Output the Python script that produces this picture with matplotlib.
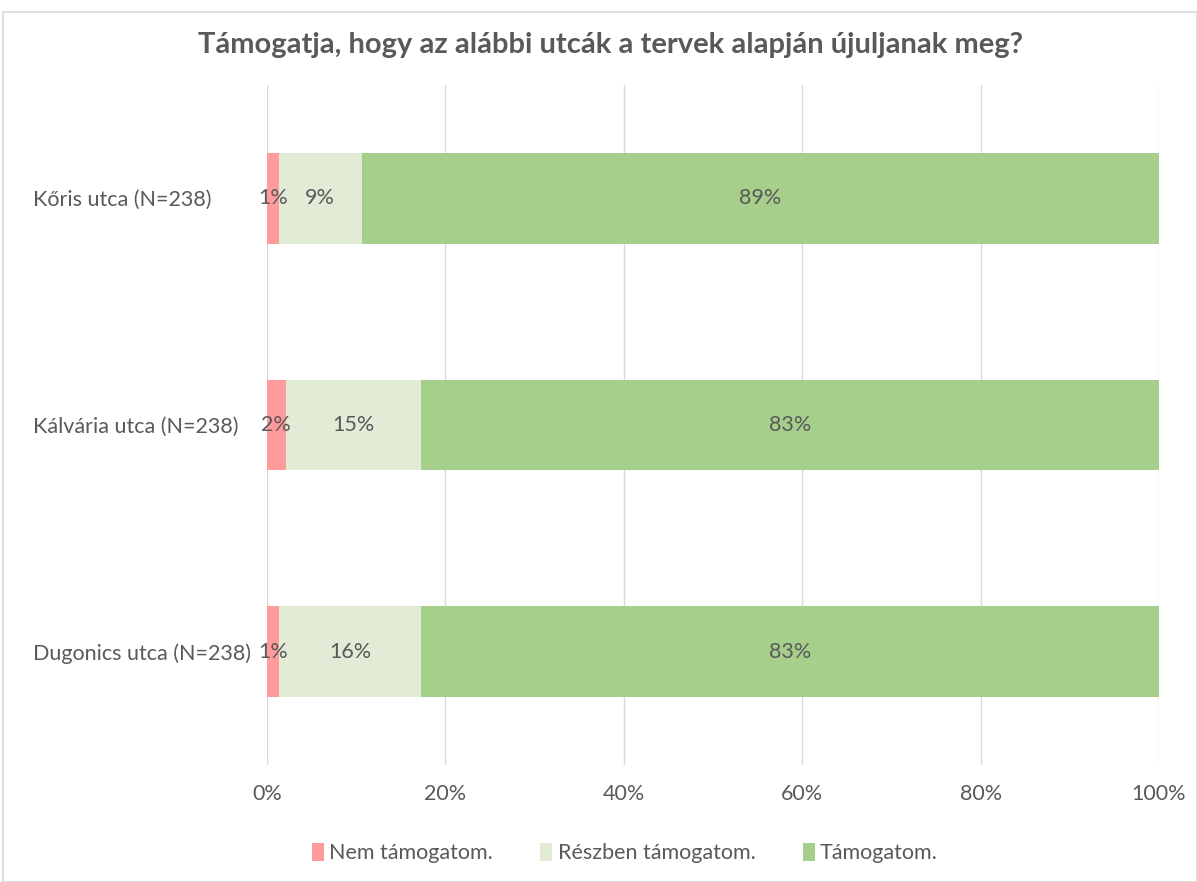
import numpy as np
import matplotlib.pyplot as plt
from matplotlib.patches import Rectangle

categories = ["Kőris utca (N=238)", "Kálvária utca (N=238)", "Dugonics utca (N=238)"]
series = ["Nem támogatom.", "Részben támogatom.", "Támogatom."]
nem = [1.3, 2.1, 1.3]
reszben = [9.3, 15.2, 16.0]
tamogat = [89.4, 82.7, 82.7]
colors = ["#FF9B9B", "#E2EBD6", "#A6CF8C"]
xticks = [0, 20, 40, 60, 80, 100]

plt.rcParams['font.family'] = ['Lato', 'DejaVu Sans']
txt = "#595959"
fs = 15.5

fig = plt.figure(figsize=(11.97, 8.82), dpi=100)
fig.patches.append(Rectangle((3 / 1197, 0), 1 - 3 / 1197, 1 - 12 / 882, transform=fig.transFigure,
                             fill=False, edgecolor="#D9D9D9", linewidth=1.2))
ax = fig.add_axes([267 / 1197, 1 - 765 / 882, (1159 - 267) / 1197, (765 - 85) / 882])

y = np.arange(len(categories))
left = np.zeros(len(categories))
for name, vals, c in zip(series, [nem, reszben, tamogat], colors):
    vals = np.array(vals)
    ax.barh(y, vals, left=left, height=0.4, color=c, label=name, zorder=3)
    for yi, l, v in zip(y, left, vals):
        ax.text(l + v / 2, yi, f"{round(v):.0f}%", ha="center", va="center",
                fontsize=fs, color=txt, zorder=4)
    left += vals

ax.set_xlim(0, 100)
ax.set_ylim(2.5, -0.5)
ax.set_xticks(xticks)
ax.set_xticklabels([f"{t}%" for t in xticks], fontsize=fs, color=txt)
ax.set_yticks(y)
ax.set_yticklabels(categories, fontsize=fs, color=txt, ha="left")
ax.tick_params(axis="y", length=0, pad=(267 - 33) * 0.72)
ax.tick_params(axis="x", length=0, pad=14)
ax.grid(axis="x", color="#D9D9D9", linewidth=1, zorder=0)
for s in ax.spines.values():
    s.set_visible(False)

fig.text(0.51, 1 - 45 / 882, "Támogatja, hogy az alábbi utcák a tervek alapján újuljanak meg?",
         ha="center", va="center", fontsize=21, fontweight="bold", color=txt)
fig.legend(loc="center", bbox_to_anchor=(0.522, 1 - 853 / 882), ncol=3, frameon=False,
           fontsize=fs, labelcolor=txt, handlelength=0.55, handleheight=0.9,
           handletextpad=0.25, columnspacing=2.2)

fig.savefig("out.png", dpi=100)
